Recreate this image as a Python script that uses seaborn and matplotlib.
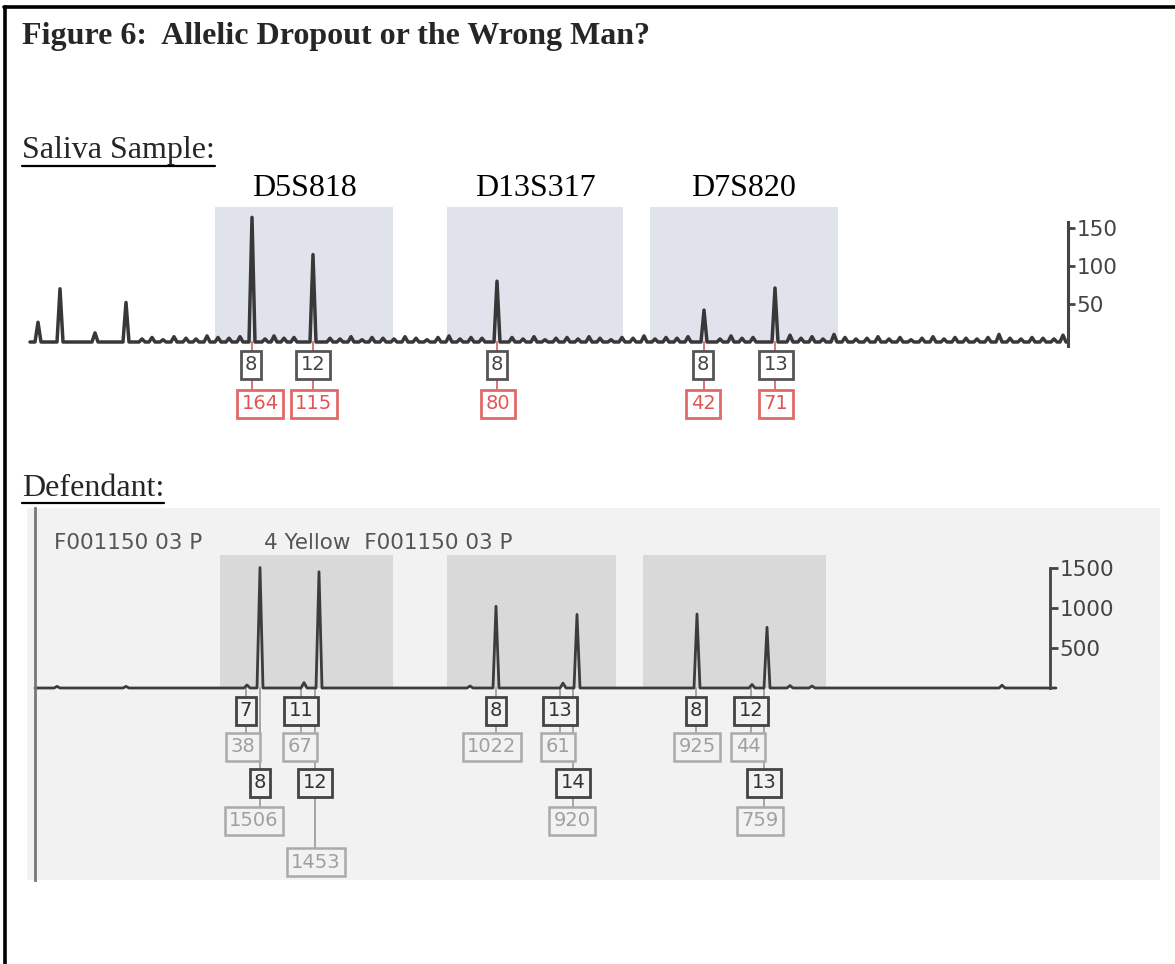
import numpy as np
import pandas as pd
import matplotlib
matplotlib.use("Agg")
import matplotlib.pyplot as plt
import seaborn as sns

# ---------------- data ----------------
loci = ["D5S818", "D13S317", "D7S820"]

# saliva sample: called alleles, scan position, peak height (RFU)
saliva_allele = ["8", "12", "8", "8", "13"]
saliva_pos = [252, 313, 497, 704, 775]
saliva_rfu = [164, 115, 80, 42, 71]
saliva_bins = [(215, 393), (447, 623), (650, 838)]
# uncalled bumps and baseline noise of the saliva trace
saliva_minor_pos = [38, 60, 95, 126, 142, 152, 163, 174, 186, 196, 207, 218,
                    229, 240, 265, 274, 284, 294, 330, 340, 351, 362, 372, 383,
                    394, 405, 416, 427, 438, 449, 460, 471, 482, 512, 523, 534,
                    545, 556, 567, 578, 589, 600, 611, 622, 633, 644, 655, 666,
                    677, 688, 720, 731, 742, 753, 790, 801, 812, 823, 834, 845,
                    856, 867, 878, 889, 900, 911, 922, 933, 944, 955, 966, 977,
                    988, 999, 1010, 1021, 1032, 1043, 1054, 1063]
saliva_minor_rfu = [26, 70, 12, 52, 4, 6, 3, 7, 5, 4, 8, 6,
                    5, 7, 4, 8, 5, 6, 5, 4, 7, 3, 6, 5,
                    4, 7, 5, 3, 6, 8, 4, 6, 5, 6, 4, 7,
                    3, 5, 6, 4, 7, 5, 3, 6, 5, 8, 4, 6,
                    5, 7, 4, 8, 5, 6, 9, 5, 7, 4, 10, 6,
                    4, 5, 7, 4, 6, 3, 5, 7, 4, 6, 5, 4,
                    6, 10, 5, 4, 6, 5, 4, 9]

# defendant reference sample
defendant_allele = ["7", "8", "11", "12", "8", "13", "14", "8", "12", "13"]
defendant_pos = [247, 260, 304, 319, 496, 563, 577, 697, 752, 767]
defendant_rfu = [38, 1506, 67, 1453, 1022, 61, 920, 925, 44, 759]
defendant_bins = [(220, 393), (447, 616), (643, 826)]
defendant_minor_pos = [57, 126, 470, 790, 812, 1002]
defendant_minor_rfu = [20, 20, 25, 30, 25, 35]

saliva_ticks = [50, 100, 150]
defendant_ticks = [500, 1000, 1500]

# ---------------- layout (pixels of the 1175x964 canvas) ----------------
W, H = 1175, 964
S1, BASE1 = 0.76, 342      # saliva: px per RFU, baseline row
S2, BASE2 = 0.08, 688      # defendant: px per RFU, baseline row

# label box columns / rows
saliva_label_x = [251, 313, 497, 703, 776]
saliva_value_x = [260, 314, 498, 703, 776]
defendant_label_x = [246, 260, 301, 315, 496, 560, 573, 696, 751, 764]
defendant_value_x = [243, 254, 300, 316, 492, 558, 572, 697, 748, 760]
defendant_label_row = [0, 1, 0, 1, 0, 0, 1, 0, 0, 1]
defendant_value_row = [0, 1, 0, 2, 0, 0, 1, 0, 0, 1]
label_row_px = [711, 783]
value_row_px = [747, 821, 862]

SERIF = ["Liberation Serif", "DejaVu Serif"]
SANS = ["DejaVu Sans"]


def fx(px):
    return px / W


def fy(py):
    return 1 - py / H


def trace(pos, rfu, x0, x1, half):
    pts = sorted(zip(pos, rfu))
    xs, ys = [x0], [0]
    for p, h in pts:
        xs += [p - half, p, p + half]
        ys += [0, h, 0]
    xs.append(x1)
    ys.append(0)
    return pd.DataFrame({"scan": xs, "rfu": ys})


sns.set_theme(style="white")
plt.rcParams["font.family"] = SANS

fig = plt.figure(figsize=(W / 100, H / 100), dpi=100)

# page frame (top and left rule of the table cell)
fig.add_artist(plt.Line2D([fx(4), 1], [fy(7), fy(7)], transform=fig.transFigure,
                          color="black", lw=2.6))
fig.add_artist(plt.Line2D([fx(5), fx(5)], [fy(7), 0], transform=fig.transFigure,
                          color="black", lw=2.6))

fig.text(fx(22), fy(44), "Figure 6:  Allelic Dropout or the Wrong Man?",
         family=SERIF, fontsize=23, fontweight="bold", va="baseline")
t_sal = fig.text(fx(22), fy(158), "Saliva Sample:", family=SERIF, fontsize=23,
                 va="baseline")
t_def = fig.text(fx(22), fy(496), "Defendant:", family=SERIF, fontsize=23,
                 va="baseline")

# ---------------- saliva electropherogram ----------------
ax1 = fig.add_axes([fx(22), fy(440), fx(1160) - fx(22), (440 - 160) / H])
ax1.set_facecolor("white")
ax1.set_xlim(22, 1160)
ax1.set_ylim(-(440 - BASE1) / S1, (BASE1 - 160) / S1)

for (a, b) in saliva_bins:
    ax1.fill_between([a, b], 0, (BASE1 - 207) / S1, color="#e0e3eb", lw=0, zorder=0)
for name, (a, b) in zip(loci, saliva_bins):
    ax1.text((a + b) / 2, (BASE1 - 196) / S1, name, family=SERIF, fontsize=23,
             ha="center", va="baseline", color="black")

df1 = trace(saliva_pos + saliva_minor_pos, saliva_rfu + saliva_minor_rfu, 30, 1068, 3)
sns.lineplot(data=df1, x="scan", y="rfu", sort=False, estimator=None,
             color="#383838", lw=2.5, ax=ax1, zorder=2)

y_lab1 = (BASE1 - 365) / S1
y_val1 = (BASE1 - 404) / S1
for a, v, p, lx, vx in zip(saliva_allele, saliva_rfu, saliva_pos,
                           saliva_label_x, saliva_value_x):
    ax1.plot([p, p], [0, y_val1], color="#d86a6a", lw=1.3, zorder=1)
    ax1.text(lx, y_lab1, a, ha="center", va="center", fontsize=14, color="#444444",
             zorder=3, bbox=dict(boxstyle="square,pad=0.22", fc="white",
                                 ec="#555555", lw=2))
    ax1.text(vx, y_val1, str(v), ha="center", va="center", fontsize=14,
             color="#e05555", zorder=3,
             bbox=dict(boxstyle="square,pad=0.22", fc="white", ec="#e06a6a", lw=2))

for side in ["top", "bottom", "left"]:
    ax1.spines[side].set_visible(False)
ax1.spines["right"].set_position(("data", 1068))
ax1.spines["right"].set_bounds(-5, (BASE1 - 222) / S1)
ax1.spines["right"].set_color("#444444")
ax1.spines["right"].set_linewidth(2.2)
ax1.yaxis.tick_right()
ax1.set_yticks(saliva_ticks)
ax1.set_xticks([])
ax1.tick_params(axis="y", direction="out", length=5, width=2, colors="#444444",
                labelsize=15.5, pad=1)
ax1.set_xlabel("")
ax1.set_ylabel("")

# ---------------- defendant electropherogram ----------------
ax2 = fig.add_axes([fx(27), fy(880), fx(1160) - fx(27), (880 - 508) / H])
ax2.set_facecolor("#f2f2f2")
ax2.set_xlim(27, 1160)
ax2.set_ylim(-(880 - BASE2) / S2, (BASE2 - 508) / S2)

for (a, b) in defendant_bins:
    ax2.fill_between([a, b], 0, (BASE2 - 555) / S2, color="#d9d9d9", lw=0, zorder=0)

df2 = trace(defendant_pos + defendant_minor_pos, defendant_rfu + defendant_minor_rfu,
            35, 1056, 3)
sns.lineplot(data=df2, x="scan", y="rfu", sort=False, estimator=None,
             color="#3c3c3c", lw=2, ax=ax2, zorder=2)

ax2.text(54, (BASE2 - 543) / S2, "F001150 03 P", fontsize=15.5, color="#555555",
         va="center")
ax2.text(264, (BASE2 - 543) / S2, "4 Yellow  F001150 03 P", fontsize=15.5,
         color="#555555", va="center")

for a, v, lx, vx, lr, vr in zip(defendant_allele, defendant_rfu, defendant_label_x,
                                defendant_value_x, defendant_label_row,
                                defendant_value_row):
    yl = (BASE2 - label_row_px[lr]) / S2
    yv = (BASE2 - value_row_px[vr]) / S2
    ax2.plot([lx, lx], [0, yv], color="#999999", lw=1.2, zorder=1)
    ax2.text(lx, yl, a, ha="center", va="center", fontsize=14, color="#333333",
             zorder=3, bbox=dict(boxstyle="square,pad=0.22", fc="#f2f2f2",
                                 ec="#444444", lw=2))
    ax2.text(vx, yv, str(v), ha="center", va="center", fontsize=14, color="#a0a0a0",
             zorder=3, bbox=dict(boxstyle="square,pad=0.22", fc="#f2f2f2",
                                 ec="#aaaaaa", lw=1.8))

for side in ["top", "bottom"]:
    ax2.spines[side].set_visible(False)
ax2.spines["left"].set_position(("data", 35))
ax2.spines["left"].set_color("#777777")
ax2.spines["left"].set_linewidth(2)
ax2.spines["right"].set_position(("data", 1050))
ax2.spines["right"].set_bounds(0, 1500)
ax2.spines["right"].set_color("#444444")
ax2.spines["right"].set_linewidth(2)
ax2.yaxis.tick_right()
ax2.set_yticks(defendant_ticks)
ax2.set_xticks([])
ax2.tick_params(axis="y", direction="out", length=6, width=2, colors="#444444",
                labelsize=15.5, pad=1)
ax2.set_xlabel("")
ax2.set_ylabel("")

# underline the two section headings
fig.canvas.draw()
inv = fig.transFigure.inverted()
for t, upx in [(t_sal, 166), (t_def, 503)]:
    bb = t.get_window_extent().transformed(inv)
    fig.add_artist(plt.Line2D([bb.x0, bb.x1], [fy(upx), fy(upx)],
                              transform=fig.transFigure, color="black", lw=1.6))

fig.savefig("out.png", dpi=100)
